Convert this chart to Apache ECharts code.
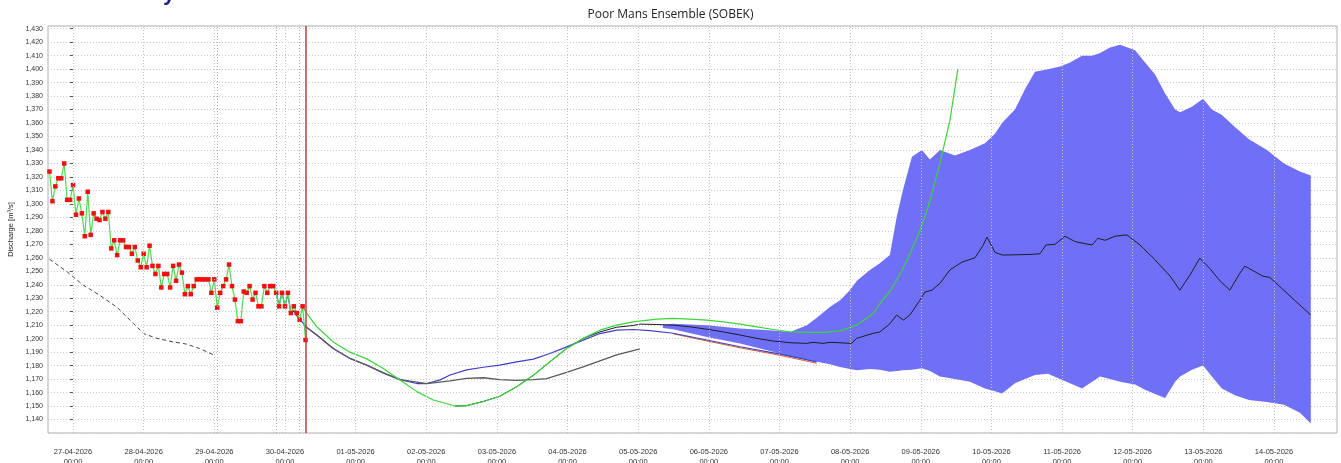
<!DOCTYPE html>
<html><head><meta charset="utf-8">
<script src="https://cdn.jsdelivr.net/npm/echarts@6/dist/echarts.min.js"></script>
<style>html,body{margin:0;padding:0;background:#fff}#c{width:1341px;height:463px}</style>
</head><body><div id="c"></div>
<script>
// x values are hours counted from 27-04-2026 00:00
const dayLabels = ['27-04-2026','28-04-2026','29-04-2026','30-04-2026','01-05-2026','02-05-2026','03-05-2026','04-05-2026','05-05-2026','06-05-2026','07-05-2026','08-05-2026','09-05-2026','10-05-2026','11-05-2026','12-05-2026','13-05-2026','14-05-2026'];
const timeLabel = '00:00';
const yTicks = {min: 1130, max: 1432, step: 10};

// observed hourly discharge from 26-04 16:00 to 30-04 07:00
const obsStartHour = -8;
const obsValues = [1324,1302,1313,1319,1319,1330,1303,1303,1314,1292,1304,1293,1276,1309,1277,1293,1289,1288,1294,1289,
  1294,1267,1273,1262,1273,1273,1268,1268,1263,1268,1258,1253,1263,1253,1269,1254,1248,1254,1238,1248,
  1248,1238,1254,1243,1255,1249,1233,1239,1233,1239,1244,1244,1244,1244,1244,1234,1244,1223,1234,1239,
  1244,1255,1239,1229,1213,1213,1235,1234,1239,1229,1234,1224,1224,1239,1234,1239,1239,1234,1224,1234,
  1224,1234,1219,1224,1219,1214,1224,1199];

// earlier simulation (dashed)
const simDashed = [[-8,1259],[-2,1249.6],[3.5,1239.7],[9,1232.3],[15,1223.2],[20.5,1211.3],[24,1203.8],[28.5,1200.2],[34,1197.6],[38.5,1196],[43,1192.7],[48,1187.7]];

const fcGreen = [[78,1224],[79,1220],[82.8,1208.8],[88.4,1197.6],[94.1,1190],[99.8,1185],[105.4,1177.8],[111.1,1169.4],[116.8,1160.7],[122.4,1154.5],[129.8,1150],[133.7,1150.3],[139.4,1153.4],[145,1157.3],[150.7,1164.3],[156.4,1172.9],[162,1182.8],[167.7,1192.7],[173.3,1200.2],[179,1206.3],[184.7,1210],[190.3,1212.5],[198.3,1214.5],[203.9,1215],[209.6,1214.5],[215.3,1213.8],[220.9,1212.5],[226.6,1210.8],[232.3,1208.8],[237.9,1206.8],[243.6,1205],[249.2,1204.6],[254.9,1204.6],[260.6,1205.8],[266.2,1210],[271.9,1218.7],[274.1,1226],[277.5,1235],[281,1248],[284.3,1263],[287.7,1280],[291.1,1302],[294.5,1330],[297.9,1362],[300.6,1400]];

const fcBlue = [[69,1235],[70,1224],[71,1235],[72,1224],[73,1233],[74,1219],[75,1221],[76,1217],[77,1214],[78,1212],[79,1209],[82.8,1202.7],[88.4,1192.7],[94.1,1185.3],[99.8,1180.3],[105.4,1174.6],[111.1,1169.6],[116.8,1166.7],[120.2,1166.7],[124.7,1169.4],[128.1,1173],[133.7,1176.8],[139.4,1178.8],[145,1180.4],[150.7,1182.8],[156.4,1184.8],[162,1189],[167.7,1193.9],[173.3,1198.9],[179,1203.8],[184.7,1206.3],[190.3,1206.8],[196,1206],[203.9,1204],[215.3,1199],[226.6,1194],[237.9,1189.5],[243.6,1187],[252.6,1182.8]];

const fcGray = [[79,1209],[82.8,1202.7],[88.4,1192.7],[94.1,1185.3],[99.8,1180.3],[105.4,1174.6],[111.1,1169.6],[120.2,1166.7],[128.1,1168.7],[133.7,1170.5],[139.4,1171],[145,1169.6],[150.7,1169],[156.4,1169.6],[160.9,1170.3],[167.7,1175],[173.3,1179],[179,1183.5],[184.7,1188],[192.6,1192.5]];

const fcBlack = [[129.8,1150],[133.7,1150.3],[139.4,1153.4],[145,1157.3],[150.7,1164.3],[156.4,1172.9],[162,1182.8],[167.7,1192.7],[173.3,1200.2],[179,1205],[184.7,1208.5],[190.3,1209.8],[192.6,1210.8],[198.3,1210.5],[203.9,1210],[209.6,1208.8],[215.3,1207],[220.9,1205],[226.6,1202.7],[232.3,1200.2],[237.9,1198.2],[243.6,1197],[249.2,1196.5],[251.4,1197.3],[254.8,1196.5],[257.2,1197.3],[264.5,1196.5],[266.2,1200.2],[271.9,1204],[274.1,1205],[277.5,1211],[279.8,1217.5],[282.1,1213.8],[284.3,1217.5],[286.6,1225],[287.7,1228.5],[289.4,1234.6],[291.8,1236],[294.5,1241],[297.9,1251],[302,1256.8],[306.4,1260],[309.1,1269],[310.5,1275.4],[313.2,1264],[315.9,1262],[325.1,1262.5],[328.5,1263],[330.5,1269.5],[333.6,1270],[337,1276],[340.4,1272],[343.8,1270.5],[346.2,1269.5],[348.2,1274.5],[350.6,1273],[354,1276],[358,1277],[362.5,1269.5],[367.6,1258.5],[372.7,1246.4],[376,1236],[379.4,1247],[382.8,1259.8],[386.2,1252],[389.6,1243],[393,1236],[396.4,1248.6],[398.1,1253.8],[404.2,1246.4],[406.6,1245.4],[420.5,1217.5]];

const fcOrange = [[203.9,1203.6],[215.3,1198.3],[226.6,1193.2],[237.9,1188.6],[243.6,1186],[252.6,1181.8]];

// ensemble band: hour, lower, upper
const bandHours = [200.4,203.8,215.4,226.6,237.8,243.6,249.3,252.7,257.2,260.6,263.9,266.3,270.7,274.1,277.5,279.8,281.9,285,288.4,291.1,294.5,299.6,304.7,309.8,313.2,315.6,320,323.4,326.8,331.2,335.3,338.7,342.8,346.2,348.9,352.3,355.7,360.8,364.2,367.6,371,374.4,376.1,380.1,383.9,386.9,390.3,394.7,399.5,405.6,411.4,416.8,420.5];
const bandLower = [1208,1207,1201.3,1196.4,1190.2,1186.5,1184.5,1182.8,1181,1179,1177.5,1176.6,1177.5,1177,1175.4,1176,1176.5,1177,1178,1176,1172,1170,1168,1163,1161,1159.4,1167,1170,1173,1174,1170,1167,1163,1168,1172,1170,1168,1166,1162,1159,1156,1168,1172,1177,1180,1172,1163,1158,1154.5,1153,1151,1145,1137];
const bandUpper = [1210.5,1211,1210,1207.5,1206,1205,1210,1215.5,1223.6,1228.5,1236,1243,1251,1256,1262,1290,1310,1335,1340,1333,1340,1336,1340,1345,1352,1360,1370,1385,1398,1400,1402,1405,1410,1410,1412,1416,1418,1414,1405,1396,1382,1370,1368,1372,1378,1370,1366,1357,1348,1340,1330,1324,1321];

const forecastHour = 79;
const markerHours = [49, 69, 77];
const xRange = [-8.5, 429.4];

const obsData = obsValues.map((v, i) => [obsStartHour + i, v]);
const dayTicks = dayLabels.map((_, i) => i * 24);
const bandData = bandHours.map((h, i) => [h, bandLower[i], bandUpper[i]]);

const chart = echarts.init(document.getElementById('c'), null, {renderer: 'canvas'});
const fam = 'Liberation Sans, Arial, sans-serif';
const line = (name, data, color, width, extra) => Object.assign({
  name, type: 'line', data: data, showSymbol: false, symbol: 'none', silent: true,
  lineStyle: {color, width}, itemStyle: {color}, animation: false, z: 3
}, extra || {});

const option = {
  animation: false,
  backgroundColor: '#fff',
  title: {text: 'Poor Mans Ensemble (SOBEK)', left: 'center', top: 4,
    textStyle: {fontSize: 12, fontWeight: 'normal', color: '#222', fontFamily: 'Open Sans, sans-serif'}},
  graphic: [{type: 'text', left: 163, top: -17, style: {text: 'y', fontSize: 22, fontWeight: 'bold', fill: '#1c1c8a', fontFamily: 'Liberation Sans'}}],
  grid: {left: 48, right: 4, top: 26, bottom: 30, show: true, borderColor: '#b0b0b0', borderWidth: 1,
    containLabel: false, outerBoundsMode: 'none'},
  xAxis: {
    type: 'value', min: xRange[0], max: xRange[1],
    axisLine: {show: false},
    axisTick: {show: false},
    axisLabel: {customValues: dayTicks, fontSize: 7.5, color: '#333', margin: 14, lineHeight: 10, fontFamily: fam,
      formatter: v => dayLabels[Math.round(v / 24)] + '\n' + timeLabel},
    splitLine: {show: false}
  },
  yAxis: {
    type: 'value', min: yTicks.min, max: yTicks.max, interval: yTicks.step,
    name: 'Discharge [m³/s]', nameLocation: 'middle', nameGap: 33, nameRotate: 90,
    nameTextStyle: {fontSize: 7.5, color: '#222', fontFamily: fam},
    axisLine: {show: false},
    axisTick: {show: true, length: 3, lineStyle: {color: '#555'}},
    axisLabel: {fontSize: 7, color: '#333', margin: 5, fontFamily: fam, showMinLabel: false, showMaxLabel: false,
      formatter: v => v.toLocaleString('en-US')},
    splitLine: {show: true, lineStyle: {color: '#c8c8c8', type: [1, 2], width: 1}}
  },
  series: [
    {name: 'gridx', type: 'line', data: [], silent: true, animation: false,
      markLine: {silent: true, symbol: 'none', label: {show: false}, animation: false,
        lineStyle: {color: '#c4c4c4', type: [1, 2], width: 1},
        data: dayTicks.map(t => ({xAxis: t})).concat(markerHours.map(h => ({xAxis: h, lineStyle: {color: '#a8a8a8', type: [1, 2]}})))}},
    {name: 'band', type: 'custom', data: bandData, encode: {x: 0, y: [1, 2]}, silent: true, animation: false, z: 2,
      renderItem: function (params, api) {
        if (params.dataIndex !== 0) return null;
        const up = bandData.map(d => api.coord([d[0], d[2]]));
        const lo = bandData.map(d => api.coord([d[0], d[1]])).reverse();
        return {type: 'polygon', shape: {points: up.concat(lo)}, style: {fill: '#7070f6', stroke: null}};
      }},
    line('orange', fcOrange, '#e2622e', 1),
    line('blue', fcBlue, '#3f3fc4', 1.2),
    line('gray', fcGray, '#5a5a5a', 1.3),
    line('black', fcBlack, '#1d1d2a', 1),
    line('green', fcGreen, '#3ad43a', 1.2),
    line('sim', simDashed, '#444', 1, {lineStyle: {color: '#444', width: 1, type: [4, 3]}}),
    {name: 'obs', type: 'line', data: obsData, symbol: 'rect', symbolSize: 4.5, showSymbol: true, silent: true,
      animation: false, z: 4,
      lineStyle: {color: '#52d852', width: 1.2}, itemStyle: {color: '#f01010'},
      markLine: {silent: true, symbol: 'none', label: {show: false}, animation: false,
        lineStyle: {color: '#c43c3c', type: 'solid', width: 1.5},
        data: [{xAxis: forecastHour}]}}
  ]
};
chart.setOption(option);
</script>
</body></html>
